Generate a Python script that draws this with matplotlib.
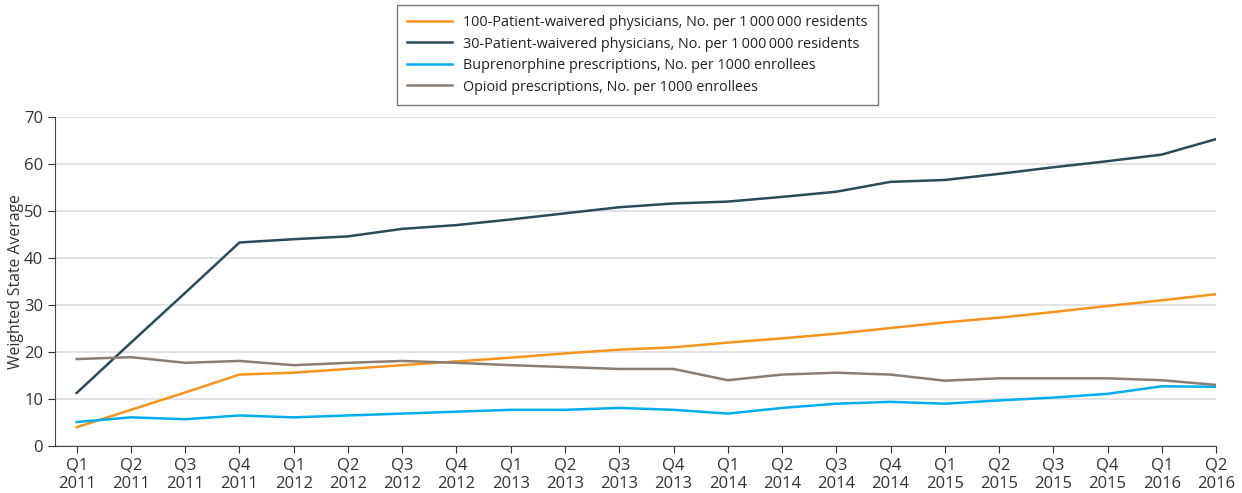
import numpy as np
import matplotlib.pyplot as plt

plt.rcParams['font.family'] = ['Open Sans', 'DejaVu Sans']

quarters = ['Q1\n2011', 'Q2\n2011', 'Q3\n2011', 'Q4\n2011',
            'Q1\n2012', 'Q2\n2012', 'Q3\n2012', 'Q4\n2012',
            'Q1\n2013', 'Q2\n2013', 'Q3\n2013', 'Q4\n2013',
            'Q1\n2014', 'Q2\n2014', 'Q3\n2014', 'Q4\n2014',
            'Q1\n2015', 'Q2\n2015', 'Q3\n2015', 'Q4\n2015',
            'Q1\n2016', 'Q2\n2016']

phys100 = [4.0, 7.7, 11.4, 15.2, 15.6, 16.4, 17.2, 18.0, 18.8, 19.7, 20.5,
           21.0, 22.0, 22.9, 23.9, 25.1, 26.3, 27.3, 28.5, 29.8, 31.0, 32.3]
phys30 = [11.3, 22.0, 32.6, 43.3, 44.0, 44.6, 46.2, 47.0, 48.2, 49.5, 50.8,
          51.6, 52.0, 53.0, 54.1, 56.2, 56.6, 57.9, 59.3, 60.6, 62.0, 65.3]
bupren = [5.1, 6.1, 5.7, 6.5, 6.1, 6.5, 6.9, 7.3, 7.7, 7.7, 8.1,
          7.7, 6.9, 8.1, 9.0, 9.4, 9.0, 9.7, 10.3, 11.1, 12.7, 12.6]
opioid = [18.5, 18.9, 17.7, 18.1, 17.2, 17.7, 18.1, 17.7, 17.2, 16.8, 16.4,
          16.4, 14.0, 15.2, 15.6, 15.2, 13.9, 14.4, 14.4, 14.4, 14.0, 13.0]

x = np.arange(len(quarters))

fig = plt.figure(figsize=(12.42, 4.93), dpi=100)
ax = fig.add_axes([0.0443, 0.0953, 0.9348, 0.6674])

ax.plot(x, phys100, color='#F7941D', lw=1.8,
        label='100-Patient-waivered physicians, No. per 1\u2009000\u2009000 residents')
ax.plot(x, phys30, color='#2B4B59', lw=1.8,
        label='30-Patient-waivered physicians, No. per 1\u2009000\u2009000 residents')
ax.plot(x, bupren, color='#00AEEF', lw=1.8,
        label='Buprenorphine prescriptions, No. per 1000 enrollees')
ax.plot(x, opioid, color='#8A7E74', lw=1.8,
        label='Opioid prescriptions, No. per 1000 enrollees')

ax.set_xlim(-0.4, 21)
ax.set_ylim(0, 70)
ax.set_yticks(range(0, 71, 10))
ax.set_xticks(x)
ax.set_xticklabels(quarters)
ax.yaxis.grid(True, color='#dddddd', lw=1.2)
ax.set_axisbelow(True)
ax.tick_params(axis='both', labelsize=12, colors='#333333', length=5)
for s in ['top', 'right']:
    ax.spines[s].set_visible(False)
for s in ['left', 'bottom']:
    ax.spines[s].set_color('#444444')
ax.set_ylabel('Weighted State Average', fontsize=11.3, color='#333333', labelpad=0)

leg = fig.legend(loc='upper center', bbox_to_anchor=(0.513, 0.99), fontsize=10.4,
                 frameon=True, fancybox=False, edgecolor='#555555',
                 handlelength=3.1, borderpad=0.7, labelspacing=0.45,
                 borderaxespad=0)
leg.get_frame().set_linewidth(1)
for t in leg.get_texts():
    t.set_color('#222222')

fig.savefig('out.png', dpi=100)
